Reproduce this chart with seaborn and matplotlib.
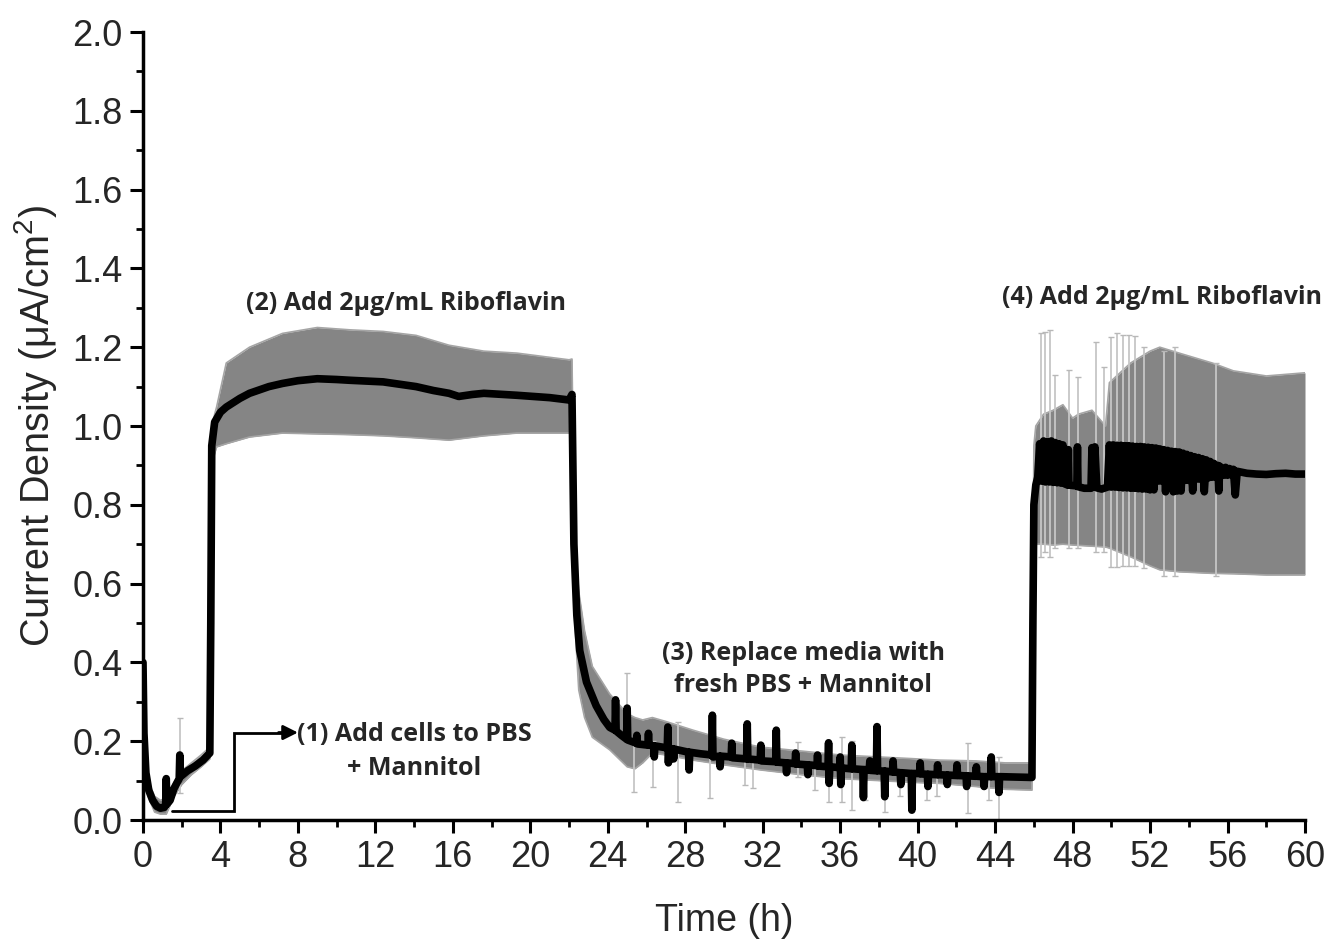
import matplotlib
matplotlib.use("Agg")
import matplotlib.pyplot as plt
from matplotlib.ticker import MultipleLocator, FormatStrFormatter
import pandas as pd
import seaborn as sns

# ---------------- data ----------------
# mean current density, segment 1: cells added (0 - 3.5 h)
seg1_t = [0.0, 0.05, 0.15, 0.3, 0.5, 0.7, 0.9, 1.1, 1.17, 1.2, 1.23, 1.4, 1.6, 1.87, 1.9, 1.93,
          2.3, 2.7, 3.1, 3.45]
seg1_v = [0.40, 0.22, 0.12, 0.075, 0.05, 0.035, 0.03, 0.032, 0.04, 0.105, 0.04, 0.05, 0.08, 0.105, 0.165, 0.11,
          0.125, 0.137, 0.152, 0.17]

# segment 2: riboflavin added (3.5 - 22.15 h)
seg2_t = [3.5, 3.55, 3.7, 4.0, 4.3, 5.0, 5.5, 6.5, 7.2, 8.0, 9.0, 10.0, 10.7, 12.4, 14.1, 15.0,
          15.8, 16.3, 17.0, 17.6, 19.3, 21.0, 22.0, 22.15]
seg2_v = [0.5, 0.95, 1.01, 1.035, 1.048, 1.07, 1.083, 1.1, 1.108, 1.115, 1.12, 1.118, 1.116, 1.112, 1.1, 1.09,
          1.083, 1.075, 1.08, 1.083, 1.078, 1.072, 1.066, 1.08]

# segment 3: media replaced (22.2 - 45.9 h)
seg3_t = [22.2, 22.25, 22.4, 22.55, 22.9, 23.4, 23.8, 24.1,
          24.37, 24.4, 24.43, 24.7, 24.97, 25.0, 25.03, 25.47, 25.5, 25.53,
          26.07, 26.1, 26.13, 26.37, 26.4, 26.43, 27.07, 27.1, 27.13, 27.16,
          27.37, 27.4, 27.43, 28.17, 28.2, 28.23, 28.8, 29.37, 29.4, 29.43,
          29.77, 29.8, 29.83, 30.37, 30.4, 30.43, 31.17, 31.2, 31.23,
          31.87, 31.9, 31.93, 32.67, 32.7, 32.73, 33.2, 33.23, 33.26,
          33.67, 33.7, 33.73, 34.3, 34.33, 34.36, 34.8, 34.83, 34.86,
          35.37, 35.4, 35.43, 35.46, 35.97, 36.0, 36.03, 36.06, 36.57, 36.6, 36.63,
          37.17, 37.2, 37.23, 37.5, 37.53, 37.56, 37.87, 37.9, 37.93,
          38.27, 38.3, 38.33, 38.7, 38.73, 38.76, 39.1, 39.13, 39.16,
          39.67, 39.7, 39.73, 40.1, 40.13, 40.16, 40.5, 40.53, 40.56,
          41.0, 41.03, 41.06, 41.5, 41.53, 41.56, 42.0, 42.03, 42.06,
          42.5, 42.53, 42.56, 43.0, 43.03, 43.06, 43.4, 43.43, 43.46,
          43.77, 43.8, 43.83, 44.17, 44.2, 44.23, 45.9]
seg3_v = [0.9, 0.70, 0.52, 0.43, 0.35, 0.29, 0.255, 0.235,
          0.228, 0.305, 0.226, 0.215, 0.205, 0.284, 0.203, 0.195, 0.215, 0.193,
          0.19, 0.22, 0.19, 0.188, 0.16, 0.188, 0.183, 0.236, 0.145, 0.182,
          0.18, 0.155, 0.18, 0.172, 0.127, 0.172, 0.168, 0.165, 0.266, 0.16,
          0.162, 0.135, 0.162, 0.16, 0.195, 0.158, 0.155, 0.244, 0.155,
          0.152, 0.19, 0.15, 0.148, 0.228, 0.147, 0.145, 0.12, 0.145,
          0.143, 0.17, 0.142, 0.14, 0.115, 0.14, 0.138, 0.165, 0.137,
          0.135, 0.196, 0.093, 0.135, 0.133, 0.16, 0.09, 0.132, 0.13, 0.19, 0.13,
          0.128, 0.057, 0.128, 0.127, 0.15, 0.126, 0.125, 0.237, 0.125,
          0.124, 0.059, 0.124, 0.122, 0.15, 0.122, 0.12, 0.09, 0.12,
          0.118, 0.025, 0.118, 0.118, 0.145, 0.117, 0.116, 0.085, 0.116,
          0.115, 0.14, 0.115, 0.114, 0.09, 0.114, 0.113, 0.14, 0.113,
          0.112, 0.085, 0.112, 0.111, 0.135, 0.111, 0.11, 0.085, 0.11,
          0.11, 0.16, 0.11, 0.11, 0.07, 0.11, 0.108]

# segment 4: riboflavin added again (45.95 - 60 h)
seg4_t = [45.95, 46.0, 46.1, 46.2,
          46.3, 46.4, 46.5, 46.6, 46.7, 46.8, 46.9, 47.0, 47.1, 47.2, 47.3, 47.4, 47.5, 47.6,
          47.75, 47.78, 47.81, 48.22, 48.25, 48.28, 48.6, 48.95, 49.0, 49.08, 49.15, 49.25, 49.5, 49.8,
          49.9, 50.0, 50.1, 50.2, 50.3, 50.4, 50.5, 50.6, 50.7, 50.8, 50.9, 51.0, 51.1, 51.2,
          51.3, 51.4, 51.5, 51.6, 51.7, 51.8, 51.9, 52.0, 52.1, 52.2, 52.3, 52.4, 52.5, 52.6,
          52.7, 52.8, 52.9, 53.0, 53.1, 53.2, 53.3, 53.4, 53.5, 53.6, 53.7, 53.8, 53.9, 54.0,
          54.1, 54.2, 54.3, 54.4, 54.5, 54.6, 54.7, 54.8, 54.9, 55.0, 55.1, 55.2, 55.3, 55.4,
          55.5, 55.55, 55.6, 55.8, 55.9, 56.0, 56.1, 56.2, 56.3, 56.4, 56.5,
          57.0, 57.5, 58.0, 58.5, 59.0, 59.5, 60.0]
seg4_v = [0.5, 0.80, 0.85, 0.87,
          0.955, 0.86, 0.962, 0.858, 0.96, 0.858, 0.962, 0.857, 0.958, 0.856, 0.955, 0.855, 0.952, 0.853,
          0.85, 0.94, 0.85, 0.848, 0.947, 0.846, 0.842, 0.842, 0.945, 0.845, 0.947, 0.843, 0.84, 0.845,
          0.952, 0.845, 0.952, 0.845, 0.951, 0.844, 0.951, 0.843, 0.95, 0.843, 0.95, 0.842, 0.949, 0.842,
          0.948, 0.841, 0.948, 0.84, 0.947, 0.84, 0.946, 0.838, 0.945, 0.838, 0.944, 0.86, 0.942, 0.86,
          0.94, 0.833, 0.938, 0.86, 0.936, 0.833, 0.935, 0.835, 0.934, 0.835, 0.931, 0.862, 0.928, 0.862,
          0.925, 0.835, 0.922, 0.865, 0.92, 0.865, 0.917, 0.833, 0.914, 0.868, 0.91, 0.87, 0.905, 0.87,
          0.9, 0.835, 0.898, 0.875, 0.895, 0.875, 0.892, 0.876, 0.89, 0.825, 0.885,
          0.88, 0.878, 0.877, 0.879, 0.88, 0.878, 0.878]

# standard-deviation band (lower / upper bound)
band_t = [0.0, 0.1, 0.3, 0.6, 0.9, 1.2, 1.6, 2.0, 2.5, 3.0, 3.45,
          3.55, 3.7, 3.8, 4.3, 5.5, 7.2, 9.0, 10.7, 12.4, 14.1, 15.8, 17.6, 19.3, 22.0, 22.15,
          22.2, 22.3, 22.5, 22.8, 23.2, 24.1, 25.0, 25.4, 25.8, 26.3, 27.0, 28.4, 30.0, 31.9,
          34.0, 36.0, 38.0, 40.0, 41.1, 43.0, 44.5, 45.9,
          46.0, 46.1, 46.5, 47.0, 47.5, 48.0, 48.3, 49.0, 49.7, 49.9, 51.0, 52.0, 52.5, 53.5,
          55.2, 56.3, 58.0, 60.0]
band_lo = [0.30, 0.10, 0.055, 0.02, 0.015, 0.015, 0.06, 0.09, 0.115, 0.135, 0.155,
           0.90, 0.93, 0.947, 0.955, 0.972, 0.982, 0.98, 0.978, 0.975, 0.97, 0.964, 0.975, 0.982, 0.982, 0.98,
           0.75, 0.50, 0.33, 0.26, 0.21, 0.178, 0.135, 0.13, 0.145, 0.17, 0.165, 0.152, 0.14, 0.127,
           0.115, 0.105, 0.10, 0.095, 0.093, 0.085, 0.078, 0.076,
           0.65, 0.70, 0.70, 0.698, 0.70, 0.698, 0.697, 0.695, 0.693, 0.69, 0.668, 0.645, 0.635, 0.63,
           0.626, 0.625, 0.622, 0.622]
band_hi = [0.50, 0.20, 0.095, 0.06, 0.05, 0.055, 0.095, 0.125, 0.145, 0.165, 0.185,
           0.99, 1.03, 1.048, 1.16, 1.20, 1.235, 1.25, 1.244, 1.24, 1.23, 1.205, 1.19, 1.185, 1.168, 1.17,
           1.00, 0.70, 0.58, 0.48, 0.39, 0.32, 0.27, 0.26, 0.254, 0.26, 0.25, 0.228, 0.205, 0.185,
           0.175, 0.165, 0.16, 0.155, 0.152, 0.15, 0.145, 0.145,
           0.95, 1.00, 1.03, 1.04, 1.054, 1.02, 1.03, 1.04, 1.00, 1.11, 1.16, 1.19, 1.20, 1.185,
           1.16, 1.14, 1.127, 1.135]

# individual long error bars that stick out of the band
eb_t = [1.9, 25.0, 25.35, 26.35, 27.6, 29.3, 31.1, 31.5, 33.8, 34.7, 35.4, 36.1, 36.6, 37.3,
        38.3, 39.1, 39.7, 40.5, 41.0, 42.6, 43.7, 44.2,
        46.35, 46.55, 46.85, 47.1, 47.8, 48.3, 49.2, 49.6, 50.0, 50.3, 50.6, 50.9, 51.2, 51.7,
        52.7, 53.3, 55.4]
eb_lo = [0.068, 0.20, 0.071, 0.084, 0.046, 0.056, 0.089, 0.08, 0.11, 0.076, 0.046, 0.046, 0.025, 0.05,
         0.02, 0.06, 0.055, 0.05, 0.06, 0.017, 0.05, 0.0,
         0.668, 0.68, 0.668, 0.69, 0.69, 0.69, 0.68, 0.68, 0.642, 0.642, 0.645, 0.645, 0.645, 0.64,
         0.62, 0.62, 0.62]
eb_hi = [0.259, 0.373, 0.20, 0.20, 0.249, 0.17, 0.16, 0.16, 0.198, 0.14, 0.14, 0.21, 0.20, 0.13,
         0.13, 0.12, 0.12, 0.12, 0.12, 0.195, 0.12, 0.16,
         1.236, 1.238, 1.244, 1.13, 1.142, 1.124, 1.213, 1.15, 1.226, 1.235, 1.23, 1.232, 1.228, 1.20,
         1.19, 1.20, 1.16]

x_ticks = [0, 4, 8, 12, 16, 20, 24, 28, 32, 36, 40, 44, 48, 52, 56, 60]
y_ticks = [0.0, 0.2, 0.4, 0.6, 0.8, 1.0, 1.2, 1.4, 1.6, 1.8, 2.0]

# ---------------- style ----------------
sns.set_style("ticks")
plt.rcParams['font.family'] = ['Liberation Sans', 'DejaVu Sans']
plt.rcParams['mathtext.fontset'] = 'custom'
plt.rcParams['mathtext.rm'] = 'Liberation Sans'
plt.rcParams['mathtext.it'] = 'Liberation Sans'
plt.rcParams['mathtext.default'] = 'rm'
ANN_FONT = ['Open Sans', 'DejaVu Sans']

fig = plt.figure(figsize=(13.3, 9.44), dpi=100)
ax = fig.add_axes([143 / 1330, 1 - 820 / 944, (1305 - 143) / 1330, (820 - 32) / 944])

# band
ax.fill_between(band_t, band_lo, band_hi, color='#858585', lw=0, zorder=1)
ax.plot(band_t, band_lo, color='#a5a5a5', lw=1.2, zorder=1.5)
ax.plot(band_t, band_hi, color='#a5a5a5', lw=1.2, zorder=1.5)

# long error bars
ax.vlines(eb_t, eb_lo, eb_hi, color='#c6c6c6', lw=1.3, zorder=2)
ax.scatter(eb_t, eb_lo, marker='_', s=14, color='#b8b8b8', lw=1, zorder=2)
ax.scatter(eb_t, eb_hi, marker='_', s=14, color='#b8b8b8', lw=1, zorder=2)

# mean line
df = pd.DataFrame({'t': seg1_t + seg2_t + seg3_t + seg4_t,
                   'v': seg1_v + seg2_v + seg3_v + seg4_v})
sns.lineplot(data=df, x='t', y='v', estimator=None, sort=False, color='black',
             lw=5.5, ax=ax, zorder=4, solid_joinstyle='round', solid_capstyle='round')

# axes
ax.set_xlim(0, 60)
ax.set_ylim(0, 2.0)
ax.set_xticks(x_ticks)
ax.set_yticks(y_ticks)
ax.xaxis.set_minor_locator(MultipleLocator(2))
ax.yaxis.set_minor_locator(MultipleLocator(0.1))
ax.yaxis.set_major_formatter(FormatStrFormatter('%.1f'))
for s in ['top', 'right']:
    ax.spines[s].set_visible(False)
for s in ['left', 'bottom']:
    ax.spines[s].set_linewidth(2.5)
    ax.spines[s].set_color('black')
ax.tick_params(which='major', direction='out', length=9.5, width=2.2, labelsize=26,
               color='black', pad=5)
ax.tick_params(which='minor', direction='out', length=5, width=2.0, color='black')
ax.set_xlabel('Time (h)', fontsize=27, labelpad=20)
ax.set_ylabel('Current Density (μA/cm$^2$)', fontsize=28.5, labelpad=10)

# annotations
ann_kw = dict(fontsize=18, fontweight='bold', family=ANN_FONT, ha='center', va='center',
              zorder=6)
ax.text(13.6, 1.312, '(2) Add 2μg/mL Riboflavin', **ann_kw)
ax.text(52.6, 1.327, '(4) Add 2μg/mL Riboflavin', **ann_kw)
ax.text(34.1, 0.381, '(3) Replace media with\nfresh PBS + Mannitol', linespacing=1.38, **ann_kw)
ax.text(14.0, 0.174, '(1) Add cells to PBS\n+ Mannitol', linespacing=1.5, **ann_kw)

ax.plot([1.5, 4.7, 4.7, 7.3], [0.022, 0.022, 0.222, 0.222], color='black', lw=2,
        solid_joinstyle='miter', zorder=6)
ax.annotate('', xy=(8.0, 0.222), xytext=(7.0, 0.222),
            arrowprops=dict(arrowstyle='-|>', color='black', lw=2, mutation_scale=22,
                            shrinkA=0, shrinkB=0), zorder=6)

fig.savefig('out.png', dpi=100)
